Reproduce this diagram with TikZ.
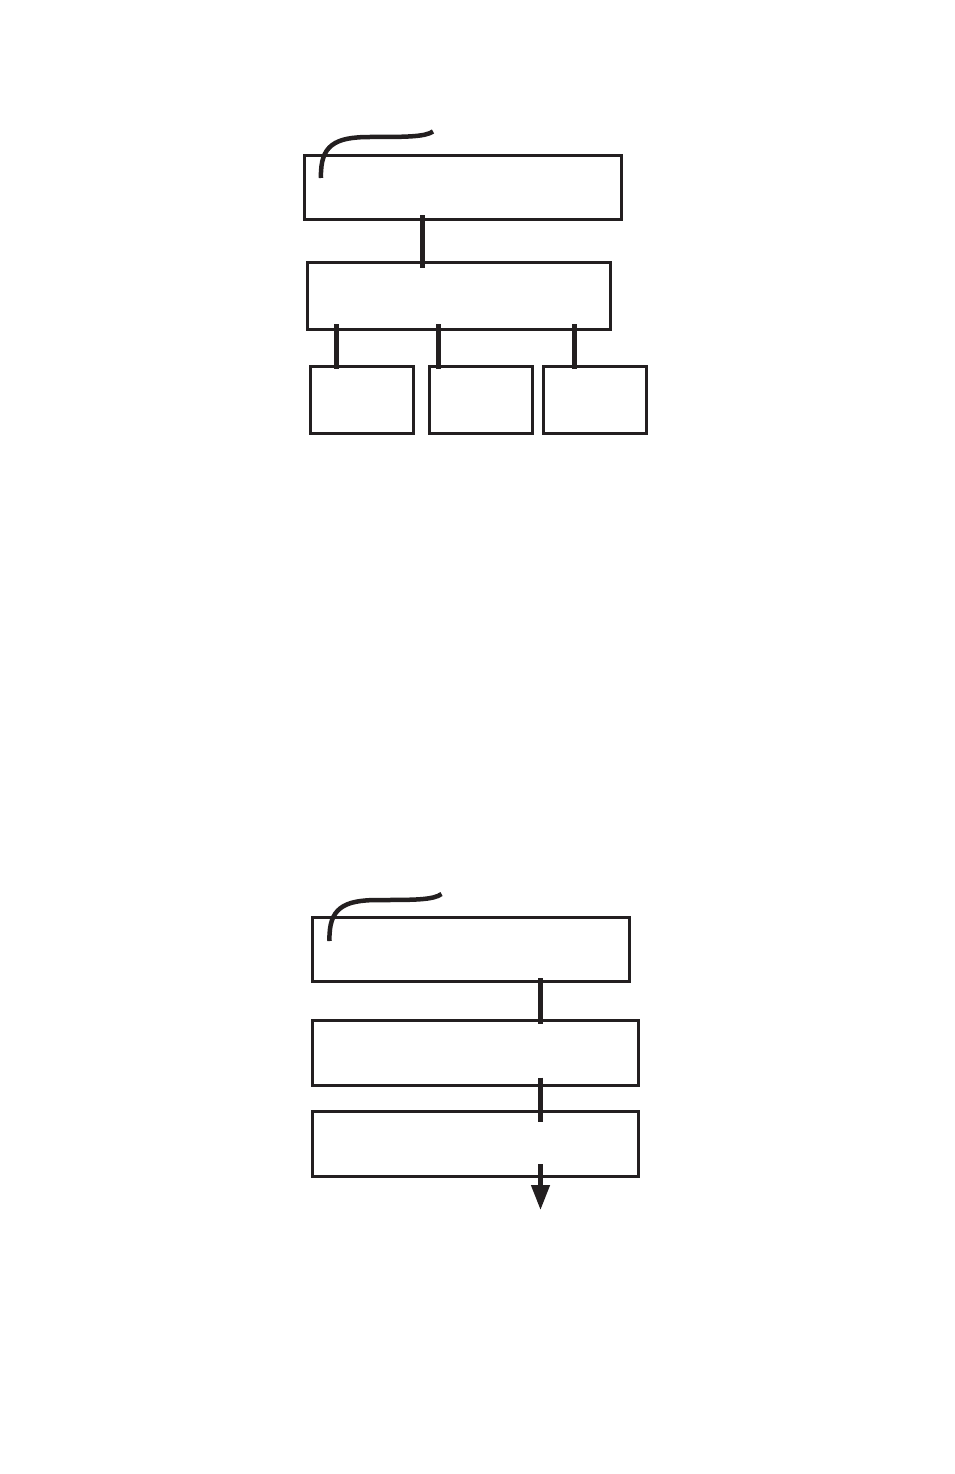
\documentclass[tikz,border=0pt]{standalone}
\usepackage{xcolor}
\usepackage{tikz}
\usetikzlibrary{arrows.meta}
\definecolor{ink}{HTML}{231F20}
\tikzstyle{box}=[fill=white, draw=ink, shape=rectangle, line width=3pt, inner sep=0pt, outer sep=0pt]
\tikzstyle{bar edge}=[-, draw=ink, line width=4.5pt]
\tikzstyle{arrow edge}=[-{Triangle[width=18pt, length=25pt]}, draw=ink, line width=4.5pt]
\tikzstyle{hook}=[-, draw=ink, line width=4.5pt]
\pgfdeclarelayer{nodelayer}
\pgfdeclarelayer{edgelayer}
\pgfsetlayers{main,nodelayer,edgelayer}

\begin{document}
\begin{tikzpicture}[x=1pt, y=-1pt]
	\useasboundingbox (0, 0) rectangle (954, 1474);
	\begin{pgfonlayer}{nodelayer}
		\node [style=box, minimum width=317pt, minimum height=63pt] (0) at (462.5, 187.5) {};
		\node [style=box, minimum width=303pt, minimum height=67pt] (1) at (458.5, 295.5) {};
		\node [style=box, minimum width=103pt, minimum height=67pt] (2) at (362, 400) {};
		\node [style=box, minimum width=103pt, minimum height=67pt] (3) at (480.5, 400) {};
		\node [style=box, minimum width=103pt, minimum height=67pt] (4) at (594.5, 400) {};
		\node [style=box, minimum width=317pt, minimum height=64pt] (5) at (471, 949.5) {};
		\node [style=box, minimum width=326pt, minimum height=65pt] (6) at (475.5, 1052.5) {};
		\node [style=box, minimum width=326pt, minimum height=65pt] (7) at (475.5, 1144) {};
		\coordinate (a) at (422.5, 0);
		\coordinate (b) at (336.5, 0);
		\coordinate (c) at (438.5, 0);
		\coordinate (d) at (574.5, 0);
		\coordinate (e) at (540.5, 0);
		\coordinate (f) at (540.5, 1210);
	\end{pgfonlayer}
	\begin{pgfonlayer}{edgelayer}
		\draw [style=hook] (321, 178) .. controls (320, 145) and (335, 137) .. (370, 137) .. controls (405, 137) and (425, 137) .. (433, 131.5);
		\draw [style=hook] (329.5, 941) .. controls (328.5, 908) and (343.5, 900) .. (378.5, 900) .. controls (413.5, 900) and (433.5, 900) .. (441.5, 894);
		\draw [style=bar edge, shorten <=-4pt, shorten >=-6pt] (0.south -| a) -- (1.north -| a);
		\draw [style=bar edge, shorten <=-5pt, shorten >=-2.5pt] (1.south -| b) -- (2.north -| b);
		\draw [style=bar edge, shorten <=-5pt, shorten >=-2.5pt] (1.south -| c) -- (3.north -| c);
		\draw [style=bar edge, shorten <=-5pt, shorten >=-2.5pt] (1.south -| d) -- (4.north -| d);
		\draw [style=bar edge, shorten <=-3.5pt, shorten >=-3.5pt] (5.south -| e) -- (6.north -| e);
		\draw [style=bar edge, shorten <=-7.5pt, shorten >=-10.5pt] (6.south -| e) -- (7.north -| e);
		\draw [style=arrow edge, shorten <=-12.5pt] (7.south -| e) -- (f);
	\end{pgfonlayer}
\end{tikzpicture}
\end{document}
